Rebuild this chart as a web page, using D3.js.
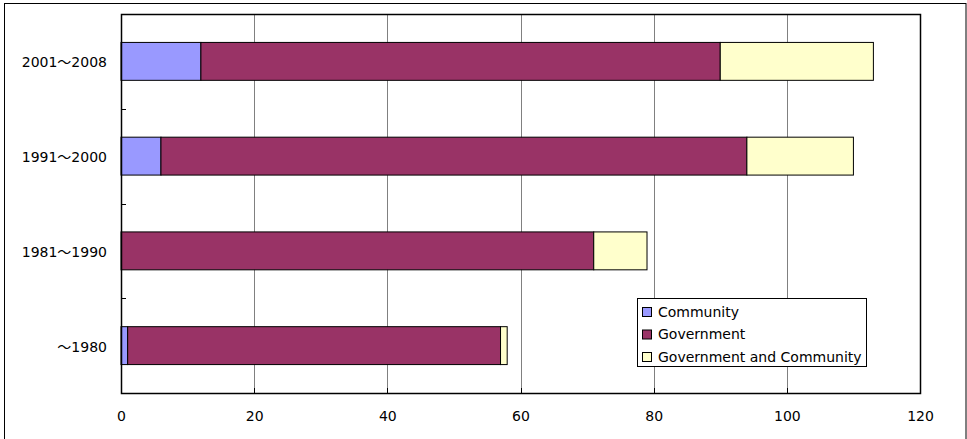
<!DOCTYPE html>
<html>
<head>
<meta charset="utf-8">
<script src="https://cdn.jsdelivr.net/npm/d3@7"></script>
<style>
  html, body { margin: 0; padding: 0; background: #fff; }
  svg text { font-family: "DejaVu Sans", "Noto Sans CJK JP", sans-serif; font-size: 14px; fill: #000; }
</style>
</head>
<body>
<svg id="chart" width="967" height="439"></svg>
<script>
// Periods, listed top to bottom
const periods = ["2001～2008", "1991～2000", "1981～1990", "～1980"];
const seriesNames = ["Community", "Government", "Government and Community"];
const community = [12, 6, 0, 1];
const government = [78, 88, 71, 56];
const govAndCommunity = [23, 16, 8, 1];
const xTicks = [0, 20, 40, 60, 80, 100, 120];
const colors = ["#9999FF", "#993366", "#FFFFCC"];

const svg = d3.select("#chart");
const W = 967, H = 439;
const plot = { left: 121, top: 14, right: 920, bottom: 393 };

// Outer frame
svg.append("rect")
  .attr("x", 4.5).attr("y", 3.5)
  .attr("width", 961.5).attr("height", H)
  .attr("fill", "#fff").attr("stroke", "#000").attr("stroke-width", 1);

const x = d3.scaleLinear().domain([0, 120]).range([plot.left, plot.right]);
const y = d3.scaleBand().domain(periods)
  .range([plot.top, plot.bottom])
  .paddingInner(0.6).paddingOuter(0.3);

// Vertical gridlines
svg.append("g").selectAll("line")
  .data(xTicks.slice(1, -1))
  .join("line")
  .attr("x1", d => Math.round(x(d)) + 0.5).attr("x2", d => Math.round(x(d)) + 0.5)
  .attr("y1", plot.top).attr("y2", plot.bottom)
  .attr("stroke", "#808080").attr("stroke-width", 1);

// Stacked data
const rows = periods.map((p, i) => ({
  period: p, Community: community[i], Government: government[i],
  "Government and Community": govAndCommunity[i]
}));
const stack = d3.stack().keys(seriesNames)(rows);

svg.append("g").selectAll("g")
  .data(stack)
  .join("g")
  .attr("fill", (d, i) => colors[i])
  .selectAll("rect")
  .data(d => d.filter(s => s[1] - s[0] > 0))
  .join("rect")
  .attr("x", d => x(d[0]))
  .attr("y", d => y(d.data.period))
  .attr("width", d => x(d[1]) - x(d[0]))
  .attr("height", y.bandwidth())
  .attr("stroke", "#000").attr("stroke-width", 1);

// Plot frame
svg.append("rect")
  .attr("x", plot.left + 0.5).attr("y", plot.top + 0.5)
  .attr("width", plot.right - plot.left).attr("height", plot.bottom - plot.top)
  .attr("fill", "none").attr("stroke", "#000").attr("stroke-width", 1.5);

// Category axis: ticks between bands, labels at centers
const step = y.step();
const boundaries = periods.slice(0, -1).map(p => y(p) + y.bandwidth() + (step - y.bandwidth()) / 2);
svg.append("g").selectAll("line")
  .data(boundaries)
  .join("line")
  .attr("x1", plot.left).attr("x2", plot.left + 5)
  .attr("y1", d => Math.round(d) + 0.5).attr("y2", d => Math.round(d) + 0.5)
  .attr("stroke", "#000");

svg.append("g").selectAll("text")
  .data(periods)
  .join("text")
  .attr("x", 107)
  .attr("y", d => y(d) + y.bandwidth() / 2 + 1)
  .attr("dy", "0.35em")
  .attr("text-anchor", "end")
  .text(d => d);

// Value axis
const xAxis = d3.axisBottom(x).tickValues(xTicks).tickSize(0).tickPadding(18);
const gx = svg.append("g").attr("transform", `translate(0,${plot.bottom})`).call(xAxis);
gx.select(".domain").remove();
gx.selectAll("text").attr("font-family", null).attr("font-size", null);
svg.append("g").selectAll("line")
  .data(xTicks.slice(1, -1))
  .join("line")
  .attr("x1", d => Math.round(x(d)) + 0.5).attr("x2", d => Math.round(x(d)) + 0.5)
  .attr("y1", plot.bottom - 5).attr("y2", plot.bottom)
  .attr("stroke", "#000");

// Legend
const lg = svg.append("g").attr("transform", "translate(637,298)");
lg.append("rect").attr("x", 0.5).attr("y", 0.5).attr("width", 229).attr("height", 68)
  .attr("fill", "#fff").attr("stroke", "#000");
const items = lg.selectAll("g.item").data(seriesNames).join("g")
  .attr("class", "item")
  .attr("transform", (d, i) => `translate(0,${14 + i * 22.5})`);
items.append("rect").attr("x", 5.5).attr("y", -4.5).attr("width", 9).attr("height", 9)
  .attr("fill", (d, i) => colors[i]).attr("stroke", "#000");
items.append("text").attr("x", 21).attr("y", 0).attr("dy", "0.35em").text(d => d);
</script>
</body>
</html>
